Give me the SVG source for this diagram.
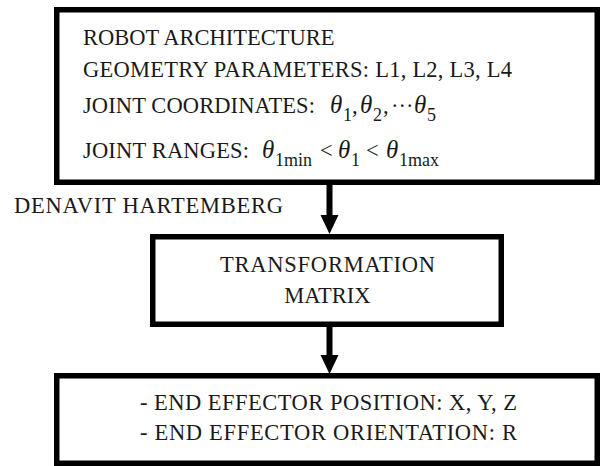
<svg xmlns="http://www.w3.org/2000/svg" width="601" height="466" viewBox="0 0 601 466">
<style>
  .box { fill: #ffffff; stroke: #000000; stroke-width: 5.5; }
  .t { font-family: "Liberation Serif", "DejaVu Serif", "Times New Roman", serif; font-size: 22.5px; fill: #1a1a1a; }
  .m { font-family: "Liberation Serif", "DejaVu Serif", "Times New Roman", serif; font-size: 25px; font-style: italic; fill: #1a1a1a; }
  .s { font-family: "Liberation Serif", "DejaVu Serif", "Times New Roman", serif; font-size: 18px; fill: #1a1a1a; }
  .c { text-anchor: middle; }
  .shaft { stroke: #000000; stroke-width: 6; fill: none; }
  .head { fill: #000000; }
</style>
<rect width="601" height="466" fill="#ffffff"/>
<g id="connectors">
  <line class="shaft" x1="329.5" y1="184" x2="329.5" y2="217"/>
  <polygon class="head" points="320.5,215 338.5,215 329.5,234"/>
  <line class="shaft" x1="329.5" y1="326" x2="329.5" y2="357"/>
  <polygon class="head" points="320.5,355 338.5,355 329.5,374"/>
  <text class="t" x="14" y="213" textLength="269">DENAVIT HARTEMBERG</text>
</g>
<g id="node-robot">
  <rect class="box" x="56.75" y="9.75" width="540.5" height="172.5"/>
  <text class="t" x="83" y="45">ROBOT ARCHITECTURE</text>
  <text class="t" x="83" y="77" textLength="429">GEOMETRY PARAMETERS: L1, L2, L3, L4</text>
  <text class="t" x="83" y="113" textLength="232">JOINT COORDINATES:</text>
  <text class="m" x="330" y="113">θ</text><text class="s" x="343" y="121">1</text>
  <text class="t" x="352" y="113">,</text>
  <text class="m" x="360" y="113">θ</text><text class="s" x="373" y="121">2</text>
  <text class="t" x="383" y="113">,</text>
  <text class="t" x="391" y="113">···</text>
  <text class="m" x="414" y="113">θ</text><text class="s" x="427" y="121">5</text>
  <text class="t" x="83" y="158" textLength="166">JOINT RANGES:</text>
  <text class="m" x="262" y="158">θ</text><text class="s" x="275" y="166">1min</text>
  <text class="t" x="320" y="158">&lt;</text>
  <text class="m" x="338" y="158">θ</text><text class="s" x="351" y="166">1</text>
  <text class="t" x="366" y="158">&lt;</text>
  <text class="m" x="386" y="158">θ</text><text class="s" x="399" y="166">1max</text>
</g>
<g id="node-transform">
  <rect class="box" x="152.75" y="236.75" width="348.5" height="87.5"/>
  <text class="t c" x="327.5" y="272" textLength="215">TRANSFORMATION</text>
  <text class="t c" x="327.5" y="303">MATRIX</text>
</g>
<g id="node-effector">
  <rect class="box" x="56.75" y="375.75" width="540.5" height="87.5"/>
  <text class="t" x="140" y="410" textLength="377">- END EFFECTOR POSITION: X, Y, Z</text>
  <text class="t" x="140" y="440" textLength="377">- END EFFECTOR ORIENTATION: R</text>
</g>
</svg>
